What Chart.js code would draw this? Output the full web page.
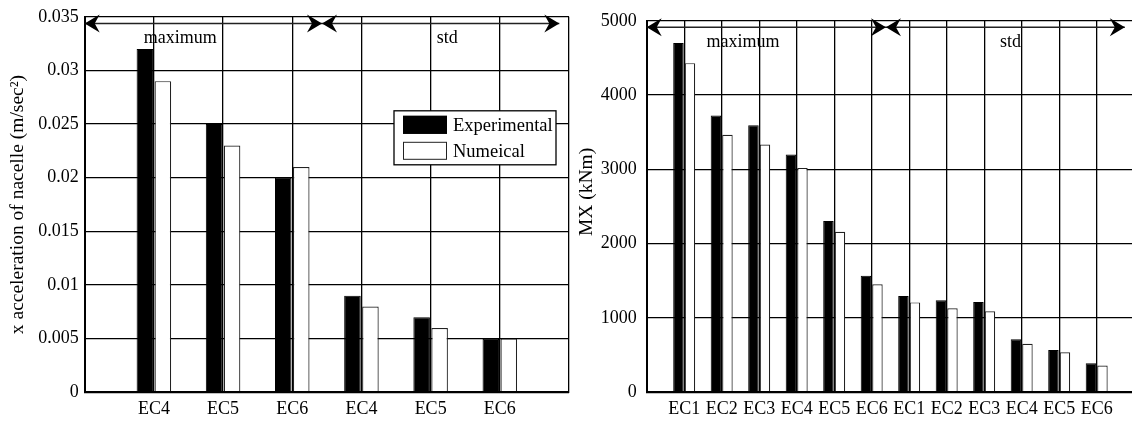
<!DOCTYPE html>
<html>
<head>
<meta charset="utf-8">
<script src="https://cdn.jsdelivr.net/npm/chart.js@4.4.1/dist/chart.umd.min.js"></script>
<style>
  html, body { margin: 0; padding: 0; background: #fff; overflow: hidden; }
  #wrap { position: relative; width: 1132px; height: 421px; overflow: hidden; }
  canvas { position: absolute; top: 0; }
  #accel { left: 0; }
  #moment { left: 560px; }
</style>
</head>
<body>
<div id="wrap">
  <canvas id="accel" width="575" height="421"></canvas>
  <canvas id="moment" width="584" height="421"></canvas>
</div>
<script>
/* ---------------- DATA ---------------- */
const seriesNames = ["Experimental", "Numeical"];

// nacelle x acceleration (m/s^2): maximum block then std block
const accelCategories = ["EC4", "EC5", "EC6", "EC4", "EC5", "EC6"];
const accelExperimental = [0.032, 0.025, 0.020, 0.009, 0.007, 0.005];
const accelNumerical = [0.029, 0.023, 0.021, 0.008, 0.006, 0.005];
const accelMax = 0.035;
const accelStep = 0.005;

// tower MX moment (kNm): maximum block then std block
const momentCategories = ["EC1", "EC2", "EC3", "EC4", "EC5", "EC6", "EC1", "EC2", "EC3", "EC4", "EC5", "EC6"];
const momentExperimental = [4700, 3725, 3595, 3200, 2305, 1570, 1295, 1240, 1215, 715, 570, 390];
const momentNumerical = [4430, 3465, 3335, 3020, 2160, 1455, 1210, 1130, 1090, 652, 538, 360];
const momentMax = 5000;
const momentStep = 1000;

// "maximum" / "std" brackets, in category units along x
const accelGroups = [
  { text: "maximum", from: 0, to: 3.43, textAt: 1.38 },
  { text: "std", from: 3.43, to: 6.86, textAt: 5.24 },
];
const momentGroups = [
  { text: "maximum", from: 0, to: 6.38, textAt: 2.57 },
  { text: "std", from: 6.38, to: 12.75, textAt: 9.7 },
];

/* ---------------- HELPERS ---------------- */
const SERIF = "'Liberation Serif', 'Times New Roman', serif";

// blank slot at both ends so grid lines sit on the bars' centres
const pad = (arr, blank) => [blank, ...arr, blank];

function arrowHead(ctx, x, y, dir) {
  const len = 15, half = 9, notch = 5;
  ctx.beginPath();
  ctx.moveTo(x, y);
  ctx.lineTo(x - dir * len, y - half);
  ctx.lineTo(x - dir * (len - notch), y);
  ctx.lineTo(x - dir * len, y + half);
  ctx.closePath();
  ctx.fill();
}

function groupPlugin(groups, arrowY, textY) {
  return {
    id: "groups",
    afterDatasetsDraw(chart) {
      const { ctx, scales: { x, y } } = chart;
      ctx.save();
      ctx.strokeStyle = "#222";
      ctx.fillStyle = "#000";
      ctx.lineWidth = 1.5;
      const ay = y.getPixelForValue(arrowY);
      groups.forEach((g) => {
        const x0 = x.getPixelForValue(g.from);
        const x1 = x.getPixelForValue(g.to);
        ctx.beginPath();
        ctx.moveTo(x0, ay);
        ctx.lineTo(x1, ay);
        ctx.stroke();
        arrowHead(ctx, x0, ay, -1);
        arrowHead(ctx, x1, ay, 1);
        ctx.font = "18px " + SERIF;
        ctx.textAlign = "center";
        ctx.textBaseline = "middle";
        ctx.fillText(g.text, x.getPixelForValue(g.textAt), y.getPixelForValue(textY));
      });
      ctx.restore();
    },
  };
}

const boxLegend = {
  id: "boxLegend",
  afterDatasetsDraw(chart) {
    const { ctx, chartArea } = chart;
    const w = 162, h = 54;
    const bx = chartArea.right - 13 - w;
    const by = chartArea.top + 94;
    ctx.save();
    ctx.fillStyle = "#fff";
    ctx.fillRect(bx, by, w, h);
    ctx.strokeStyle = "#000";
    ctx.lineWidth = 1.3;
    ctx.strokeRect(bx, by, w, h);
    ctx.font = "18.5px " + SERIF;
    ctx.textBaseline = "middle";
    chart.data.datasets.forEach((ds, i) => {
      const cy = by + 14 + i * 26;
      ctx.fillStyle = ds.backgroundColor;
      ctx.fillRect(bx + 9, cy - 9, 44, 18);
      ctx.strokeStyle = ds.borderColor;
      ctx.lineWidth = 1;
      ctx.strokeRect(bx + 9.5, cy - 8.5, 43, 17);
      ctx.fillStyle = "#000";
      ctx.fillText(ds.label, bx + 59, cy + 1);
    });
    ctx.restore();
  },
};

function buildChart(canvas, cfg) {
  return new Chart(canvas.getContext("2d"), {
    type: "bar",
    data: {
      labels: pad(cfg.categories, ""),
      datasets: [
        {
          label: seriesNames[0],
          data: pad(cfg.experimental, null),
          backgroundColor: "#000",
          borderColor: "#000",
          borderWidth: 1,
          categoryPercentage: cfg.catPct,
          barPercentage: cfg.barPct,
        },
        {
          label: seriesNames[1],
          data: pad(cfg.numerical, null),
          backgroundColor: "#fff",
          borderColor: "#222",
          borderWidth: 1.2,
          categoryPercentage: cfg.catPct,
          barPercentage: cfg.barPct,
        },
      ],
    },
    options: {
      responsive: false,
      animation: false,
      devicePixelRatio: 1,
      layout: { padding: { left: 0, right: cfg.padRight, top: 13.3, bottom: 0 } },
      plugins: { legend: { display: false }, tooltip: { enabled: false } },
      scales: {
        x: {
          offset: false,
          grid: { offset: false, color: "#000", lineWidth: 1.3, drawTicks: false },
          border: { color: "#000", width: 2, z: 1 },
          ticks: {
            autoSkip: false,
            maxRotation: 0,
            padding: 6,
            color: "#000",
            font: { family: SERIF, size: 18 },
          },
          afterFit(scale) { scale.height = 28.7; },
        },
        y: {
          min: 0,
          max: cfg.max,
          grid: { color: "#000", lineWidth: 1.3, drawTicks: false },
          border: { color: "#000", width: 2 },
          ticks: {
            stepSize: cfg.step,
            padding: cfg.tickPad,
            color: "#000",
            font: { family: SERIF, size: 18 },
            callback: (v) => String(Number(v.toFixed(3))),
          },
          title: {
            display: true,
            text: cfg.title,
            color: "#000",
            font: { family: SERIF, size: 19.5 },
            padding: { top: cfg.titlePad, bottom: 0 },
          },
          afterFit(scale) { scale.width = cfg.axisWidth; },
        },
      },
    },
    plugins: cfg.plugins,
  });
}

/* ---------------- CHARTS ---------------- */
buildChart(document.getElementById("accel"), {
  categories: accelCategories,
  experimental: accelExperimental,
  numerical: accelNumerical,
  max: accelMax,
  step: accelStep,
  title: "x acceleration of nacelle (m/sec\u00B2)",
  catPct: 0.52,
  barPct: 0.92,
  axisWidth: 84.7,
  padRight: 4.4,
  tickPad: 6,
  titlePad: 6,
  plugins: [groupPlugin(accelGroups, 0.03438, 0.0330), boxLegend],
});

// leading spaces lift the rotated axis title a little above centre
buildChart(document.getElementById("moment"), {
  categories: momentCategories,
  experimental: momentExperimental,
  numerical: momentNumerical,
  max: momentMax,
  step: momentStep,
  title: "\u2002\u2002\u2002MX (kNm)",
  catPct: 0.613,
  barPct: 0.913,
  axisWidth: 86.7,
  padRight: 9.8,
  tickPad: 10,
  titlePad: 15,
  plugins: [groupPlugin(momentGroups, 4912, 4715)],
});
</script>
</body>
</html>
